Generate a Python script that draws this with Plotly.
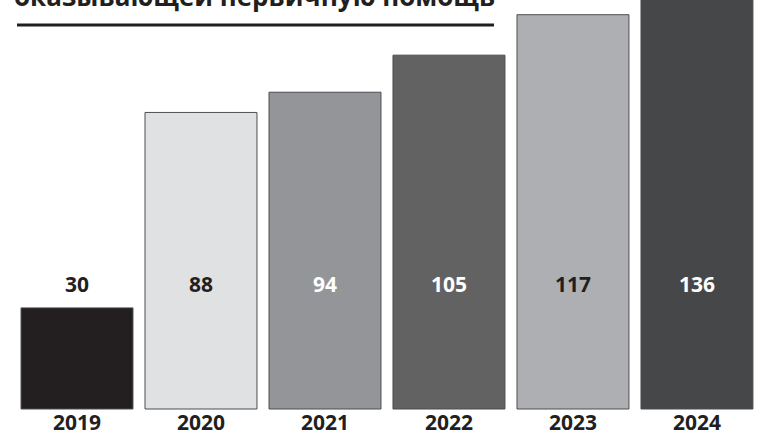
import plotly.graph_objects as go

years = ["2019", "2020", "2021", "2022", "2023", "2024"]
values = [30, 88, 94, 105, 117, 136]
bar_colors = ["#231f20", "#e0e1e3", "#939598", "#626263", "#aeafb2", "#464749"]
label_colors = ["#231f20", "#231f20", "#ffffff", "#ffffff", "#231f20", "#ffffff"]
title_text = "оказывающей первичную помощь"

W, H = 769, 436
px_per_unit = 3.37
base_px = 409
ymin = -(H - base_px) / px_per_unit
ymax = ymin + H / px_per_unit
label_y = (base_px - 284) / px_per_unit
year_y = (base_px - 422) / px_per_unit

fig = go.Figure()
fig.add_trace(go.Bar(
    x=list(range(len(years))), y=values,
    marker=dict(color=bar_colors, line=dict(color="#4d4d4f", width=1)),
    width=0.903,
    hoverinfo="skip",
))

font_family = "Open Sans, DejaVu Sans, sans-serif"
for i, (yr, v, c) in enumerate(zip(years, values, label_colors)):
    fig.add_annotation(x=i, y=label_y, xref="x", yref="y", text=f"<b>{v}</b>",
                       showarrow=False, font=dict(family=font_family, size=21, color=c),
                       xanchor="center", yanchor="middle")
    fig.add_annotation(x=i, y=year_y, xref="x", yref="y", text=f"<b>{yr}</b>",
                       showarrow=False, font=dict(family=font_family, size=21, color="#231f20"),
                       xanchor="center", yanchor="middle")

# cropped title
fig.add_annotation(x=12 / W, y=1 - 16 / H, xref="paper", yref="paper",
                   text=f"<b>{title_text}</b>", showarrow=False,
                   font=dict(family=font_family, size=26, color="#231f20"),
                   xanchor="left", yanchor="bottom")
fig.add_shape(type="line", xref="paper", yref="paper",
              x0=17 / W, x1=494 / W, y0=1 - 25 / H, y1=1 - 25 / H,
              line=dict(color="#231f20", width=3))

fig.update_layout(
    width=W, height=H,
    margin=dict(l=0, r=0, t=0, b=0),
    paper_bgcolor="white", plot_bgcolor="white",
    showlegend=False,
    xaxis=dict(range=[-0.621, 5.581], visible=False, fixedrange=True),
    yaxis=dict(range=[ymin, ymax], visible=False, fixedrange=True),
)
fig.write_html("out.html", config={"displayModeBar": False},
               post_script="document.body.style.margin='0';")
